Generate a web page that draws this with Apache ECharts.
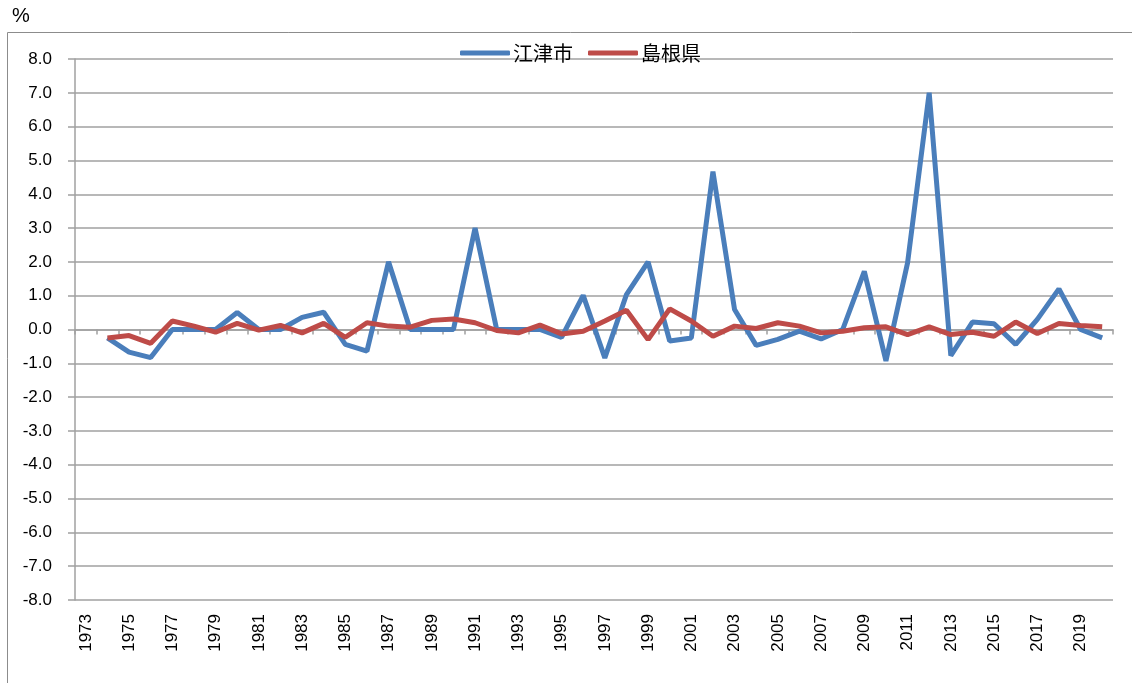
<!DOCTYPE html>
<html>
<head>
<meta charset="utf-8">
<style>
  html, body { margin: 0; padding: 0; background: #fff; }
  #chart { width: 1132px; height: 683px; }
</style>
<script src="https://cdn.jsdelivr.net/npm/echarts@6/dist/echarts.min.js"></script>
</head>
<body>
<div id="chart"></div>
<script>
// Year-on-year change (%), 江津市 vs 島根県.

const years = [
  '1973', '1974', '1975', '1976', '1977', '1978', '1979', '1980', '1981', '1982',
  '1983', '1984', '1985', '1986', '1987', '1988', '1989', '1990', '1991', '1992',
  '1993', '1994', '1995', '1996', '1997', '1998', '1999', '2000', '2001', '2002',
  '2003', '2004', '2005', '2006', '2007', '2008', '2009', '2010', '2011', '2012',
  '2013', '2014', '2015', '2016', '2017', '2018', '2019', '2020',
];

const gotsu = [
  null, -0.25, -0.67, -0.83, 0.0, 0.0, 0.0, 0.5, 0.0, 0.0,
  0.36, 0.51, -0.44, -0.64, 2.0, 0.0, 0.0, 0.0, 3.0, 0.0,
  0.0, 0.0, -0.23, 1.01, -0.84, 1.03, 2.0, -0.34, -0.25, 4.67,
  0.59, -0.47, -0.29, -0.05, -0.28, 0.0, 1.72, -0.93, 1.97, 7.0,
  -0.77, 0.22, 0.17, -0.44, 0.3, 1.2, 0.0, -0.25,
];

const shimane = [
  null, -0.25, -0.18, -0.41, 0.25, 0.1, -0.08, 0.18, -0.02, 0.12,
  -0.1, 0.18, -0.23, 0.2, 0.1, 0.07, 0.27, 0.31, 0.2, -0.03,
  -0.1, 0.13, -0.13, -0.05, 0.25, 0.57, -0.3, 0.61, 0.25, -0.2,
  0.1, 0.03, 0.2, 0.1, -0.1, -0.05, 0.05, 0.08, -0.15, 0.08,
  -0.15, -0.08, -0.2, 0.22, -0.12, 0.18, 0.12, 0.08,
];

const BLUE = '#4a7ebb';
const RED = '#be4b48';
const GRID = '#a0a0a0';
const INK = '#000';
const FONT = 'Liberation Sans';

const chart = echarts.init(document.getElementById('chart'), null, { renderer: 'canvas' });

chart.setOption({
  animation: false,
  backgroundColor: '#fff',
  textStyle: { fontFamily: FONT, color: INK },
  graphic: [
    {
      type: 'rect', z: -10, silent: true,
      shape: { x: 7.5, y: 32.5, width: 1200, height: 700 },
      style: { fill: 'none', stroke: '#8c8c8c', lineWidth: 1 },
    },
    {
      type: 'text', left: 12, top: 6,
      style: { text: '%', font: '20px "Liberation Sans"', fill: INK },
    },
  ],
  legend: {
    top: 38, left: 455,
    icon: 'roundRect',
    itemWidth: 50, itemHeight: 5, itemGap: 15,
    textStyle: { fontFamily: 'Noto Sans CJK JP', fontSize: 20, color: INK, padding: [0, 0, 0, -2] },
    data: ['江津市', '島根県'],
  },
  grid: { left: 75, right: 19, top: 59, bottom: 83, containLabel: false },
  xAxis: [
    {
      // axis line + ticks sitting on the zero line
      type: 'category', data: years, position: 'top', boundaryGap: true,
      axisLine: { onZero: true, lineStyle: { color: GRID, width: 1.5 } },
      axisTick: { show: true, inside: true, interval: 0, length: 5, lineStyle: { color: GRID, width: 1.5 } },
      axisLabel: { show: false },
      splitLine: { show: false },
    },
    {
      // labels only, along the bottom
      type: 'category', data: years, position: 'bottom', boundaryGap: true,
      axisLine: { show: false, onZero: false },
      axisTick: { show: false },
      axisLabel: { interval: 1, rotate: 90, margin: 14, fontSize: 17, color: INK, fontFamily: FONT },
      splitLine: { show: false },
    },
  ],
  yAxis: {
    type: 'value', min: -8, max: 8, interval: 1,
    axisLine: { show: true, lineStyle: { color: GRID, width: 1.5 } },
    axisTick: { show: true, length: 7, lineStyle: { color: GRID, width: 1.5 } },
    axisLabel: { margin: 23, fontSize: 17, color: INK, fontFamily: FONT, formatter: v => v.toFixed(1) },
    splitLine: { lineStyle: { color: GRID, width: 1.5 } },
  },
  series: [
    {
      name: '江津市', type: 'line', data: gotsu, xAxisIndex: 0,
      symbol: 'none', connectNulls: false,
      lineStyle: { color: BLUE, width: 5 }, itemStyle: { color: BLUE },
    },
    {
      name: '島根県', type: 'line', data: shimane, xAxisIndex: 0,
      symbol: 'none', connectNulls: false,
      lineStyle: { color: RED, width: 5 }, itemStyle: { color: RED },
    },
  ],
});
</script>
</body>
</html>
